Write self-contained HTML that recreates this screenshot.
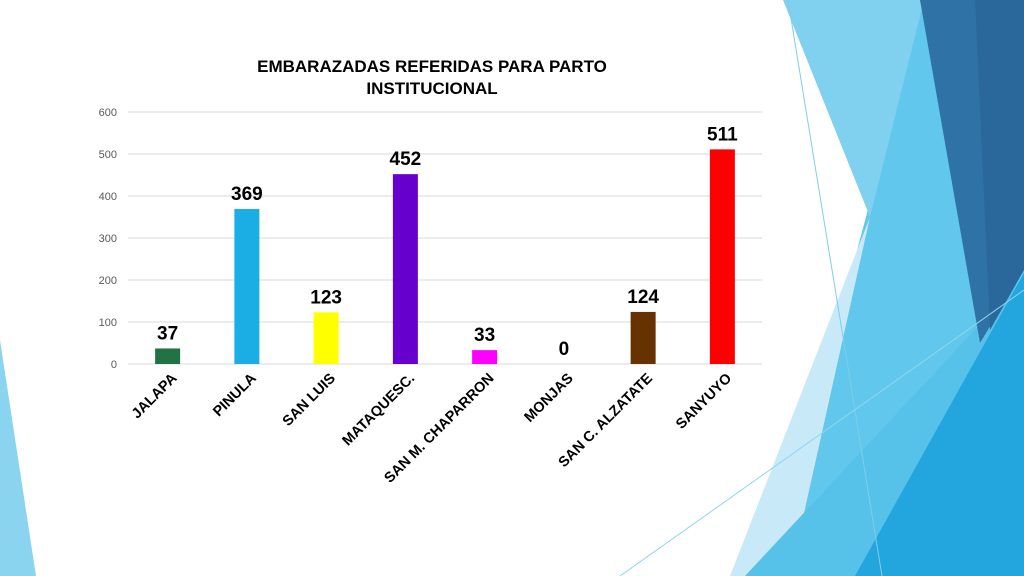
<!DOCTYPE html>
<html><head><meta charset="utf-8"><style>
body{margin:0;width:1024px;height:576px;overflow:hidden;background:#fff;font-family:"Liberation Sans",sans-serif}
svg{display:block}
</style></head><body>
<svg width="1024" height="576" viewBox="0 0 1024 576">
<g>
<polygon points="0,340 36,576 0,576" fill="#8ad4f0"/>
<polygon points="924,0 1024,0 1024,576 770,576" fill="#62c7ec"/>
<polygon points="783,0 924,0 870,217" fill="#80d0f0"/>
<polygon points="870,217 790,576 730,576" fill="#c8eaf8"/>
<polygon points="1024,277 1024,576 745,576" fill="#56c2ea"/>
<polygon points="1024,273 1024,576 855,576" fill="#22a6dd"/>
<polygon points="920,0 1024,0 1024,270 980,343" fill="#2f73a6"/>
<polygon points="975,0 1024,0 1024,270 990,330" fill="#2a689b"/>
<line x1="788" y1="0" x2="882" y2="576" stroke="#7fcdea" stroke-width="1"/>
<line x1="620" y1="576" x2="1024" y2="290" stroke="#8fd6f0" stroke-width="1"/>
</g>
<text x="432" y="72" text-anchor="middle" font-size="17" font-weight="bold" fill="#000">EMBARAZADAS REFERIDAS PARA PARTO</text>
<text x="432" y="94" text-anchor="middle" font-size="17" font-weight="bold" fill="#000">INSTITUCIONAL</text>
<g id="grid"></g><g id="bars"></g>
</svg>
<script>
const categories=["JALAPA","PINULA","SAN LUIS","MATAQUESC.","SAN M. CHAPARRON","MONJAS","SAN C. ALZATATE","SANYUYO"];
const values=[37,369,123,452,33,0,124,511];
const colors=["#217346","#1aaee5","#ffff00","#6600cc","#ff00ff","#999999","#663300","#ff0000"];
const ticks=[0,100,200,300,400,500,600];
const NS="http://www.w3.org/2000/svg";
const x0=128,x1=762,yBase=364,yTop=112,vMax=600;
const y=v=>yBase-(v/vMax)*(yBase-yTop);
const step=(x1-x0)/categories.length;
const xc=i=>x0+step*(i+0.5);
const grid=document.getElementById('grid'),bars=document.getElementById('bars');
function mk(t,a,p){const e=document.createElementNS(NS,t);for(const k in a)e.setAttribute(k,a[k]);p.appendChild(e);return e;}
ticks.forEach(t=>{
 const l=mk('line',{x1:x0,x2:x1,y1:y(t),y2:y(t),stroke:'#d9d9d9','stroke-width':1},grid);
 
 
 const tx=mk('text',{x:117,y:y(t)+4,'text-anchor':'end','font-size':11,fill:'#595959'},grid);
 tx.textContent=t;
 
 
});
categories.forEach((c,i)=>{
 const bw=25,cx=xc(i);
 const r=mk('rect',{x:cx-bw/2,y:y(values[i]),width:bw,height:yBase-y(values[i]),fill:colors[i]},bars);
 
 
 const v=mk('text',{x:cx,y:y(values[i])-9,'text-anchor':'middle','font-size':19,'font-weight':'bold',fill:'#000'},bars);
 v.textContent=values[i];
 
 
 const lx=cx+10,ly=379;
 const t=mk('text',{x:lx,y:ly,'text-anchor':'end','font-size':14.5,'font-weight':'bold',fill:'#000',transform:`rotate(-45 ${lx} ${ly})`},bars);
 t.textContent=c;
 
 
});
</script>
</body></html>
